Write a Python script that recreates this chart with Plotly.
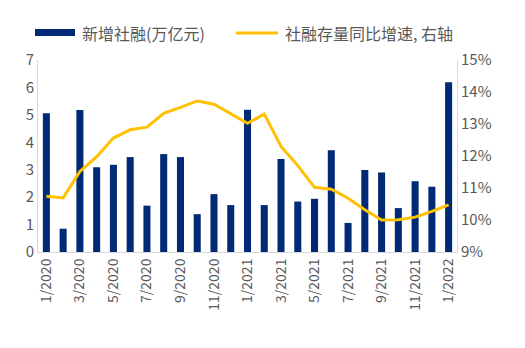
import plotly.graph_objects as go

# Monthly categories, Jan 2020 – Jan 2022
months = [f"{m}/{y}" for y in (2020, 2021) for m in range(1, 13)] + ["1/2022"]

# New social financing (trillion yuan)
new_tsf = [5.06, 0.85, 5.18, 3.09, 3.18, 3.46, 1.69, 3.57, 3.46, 1.38, 2.11, 1.71,
           5.19, 1.71, 3.39, 1.84, 1.94, 3.71, 1.06, 2.99, 2.90, 1.60, 2.58, 2.38,
           6.19]

# Social financing stock, YoY growth (%)
tsf_yoy = [10.74, 10.69, 11.52, 11.98, 12.56, 12.82, 12.90, 13.33, 13.52, 13.72, 13.62, 13.31,
           13.02, 13.31, 12.30, 11.70, 11.02, 10.96, 10.68, 10.32, 10.00, 10.01, 10.09, 10.27,
           10.47]

tick_labels = months[::2]

bar_name = "新增社融(万亿元)"
line_name = "社融存量同比增速, 右轴"
bar_color = "#002A75"
line_color = "#FFC000"

font_family = "Noto Sans CJK SC, Noto Sans, sans-serif"
gray = "#595959"

W, H = 525, 348
L, R, T, B = 38, 68, 60, 96
pw, ph = W - L - R, H - T - B


def px(x):
    return (x - L) / pw


def py(y):
    return (H - B - y) / ph


fig = go.Figure()
fig.add_trace(go.Bar(
    x=months, y=new_tsf, name=bar_name,
    marker=dict(color=bar_color, line=dict(width=0)),
    yaxis="y",
))
fig.add_trace(go.Scatter(
    x=months, y=tsf_yoy, name=line_name,
    mode="lines", line=dict(color=line_color, width=3),
    yaxis="y2",
))

# Legend drawn as keys + labels across the top
legend_y = 33
shapes = [
    dict(type="rect", xref="paper", yref="paper",
         x0=px(35), x1=px(75), y0=py(36), y1=py(29),
         fillcolor=bar_color, line=dict(width=0)),
    dict(type="line", xref="paper", yref="paper",
         x0=px(236), x1=px(278), y0=py(legend_y), y1=py(legend_y),
         line=dict(color=line_color, width=3)),
]
annotations = [
    dict(text=bar_name, xref="paper", yref="paper", x=px(80), y=py(legend_y),
         xanchor="left", yanchor="middle", showarrow=False,
         font=dict(size=16, color=gray)),
    dict(text=line_name, xref="paper", yref="paper", x=px(283), y=py(legend_y),
         xanchor="left", yanchor="middle", showarrow=False,
         font=dict(size=16, color=gray)),
]

fig.update_layout(
    width=W, height=H,
    margin=dict(l=L, r=R, t=T, b=B),
    paper_bgcolor="white", plot_bgcolor="white",
    font=dict(family=font_family, color=gray, size=14),
    bargap=0.58,
    showlegend=False,
    shapes=shapes,
    annotations=annotations,
    xaxis=dict(
        type="category", tickmode="array", tickvals=tick_labels, ticktext=tick_labels,
        tickangle=-90, showgrid=False, showline=True, linecolor="#D9D9D9", linewidth=1,
        ticks="", tickfont=dict(size=14, color=gray),
    ),
    yaxis=dict(
        range=[0, 7], dtick=1, showgrid=False, showline=True, linecolor="#D9D9D9",
        linewidth=1, ticks="", zeroline=False, tickfont=dict(size=15, color=gray),
    ),
    yaxis2=dict(
        range=[9, 15], dtick=1, ticksuffix="%", overlaying="y", side="right",
        showgrid=False, showline=True, linecolor="#D9D9D9", linewidth=1, ticks="",
        zeroline=False, tickfont=dict(size=15, color=gray),
    ),
)

fig.write_html("out.html")
